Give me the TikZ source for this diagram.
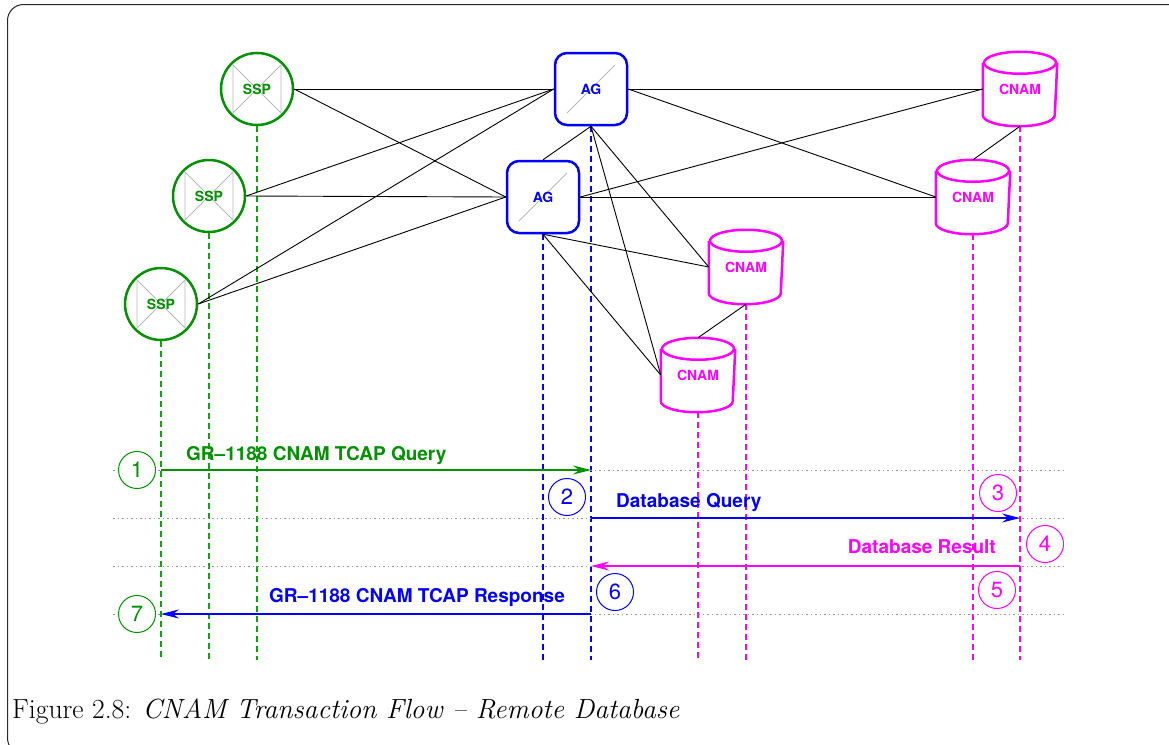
\documentclass[tikz,border=0pt]{standalone}
\usepackage{fontspec}
\newfontfamily\hv{TeX Gyre Heros}
\usetikzlibrary{arrows.meta}
\definecolor{figgreen}{RGB}{0,144,0}
\definecolor{lifegreen}{RGB}{20,160,20}
\definecolor{figblue}{RGB}{0,0,255}
\definecolor{figmag}{RGB}{255,0,255}
\definecolor{gridgray}{RGB}{150,150,150}
\definecolor{glyphgray}{RGB}{185,185,185}

% SSP: circle with a grey bow-tie glyph behind the label
\newcommand\sspnode[3]{%
  \draw[glyph] ({#2-24},{#3-24}) -- ({#2-24},{#3+24}) -- ({#2+24},{#3-24})
    -- ({#2+24},{#3+24}) -- cycle;
  \node[sspbox] (#1) at (#2,#3) {SSP};}
% AG: rounded square with a grey diagonal
\newcommand\agnode[3]{%
  \draw[glyph] ({#2-24},{#3+24}) -- ({#2+24},{#3-24});
  \node[agbox] (#1) at (#2,#3) {AG};}
% CNAM database: cylinder outline around a square node
\newcommand\cnamnode[3]{%
  \node[cnambox] (#1) at (#2,#3) {CNAM};
  \draw[cnamline] ([yshift=-11pt]#1.north) ellipse (36pt and 11pt);
  \draw[cnamline] ([yshift=-11pt]#1.north west) -- ([yshift=11pt]#1.south west)
    arc (180:360:36pt and 11pt) -- ([yshift=-11pt]#1.north east);}

\begin{document}
\begin{tikzpicture}[x=1pt,y=-1pt,
  nodefont/.style={font=\hv\bfseries\fontsize{14}{14}\selectfont},
  sspbox/.style={circle,draw=figgreen,line width=2.5pt,minimum size=72pt,
    inner sep=0pt,text=figgreen,nodefont},
  agbox/.style={rectangle,rounded corners=12pt,draw=figblue,line width=2.5pt,
    minimum size=72pt,inner sep=0pt,text=figblue,nodefont},
  cnambox/.style={rectangle,minimum size=72pt,inner sep=0pt,outer sep=1.25pt,
    text=figmag,nodefont},
  cnamline/.style={draw=figmag,line width=2.5pt},
  glyph/.style={draw=glyphgray,line width=0.9pt},
  link/.style={draw=black,line width=0.9pt},
  life/.style={line width=1.1pt,dash pattern=on 6pt off 4pt},
  grid/.style={draw=gridgray,line width=0.9pt,dash pattern=on 1.5pt off 3pt},
  msg/.style={line width=1.2pt,-{Stealth[length=18pt,width=9pt,inset=6pt]}},
  msgtext/.style={anchor=base west,inner sep=0pt,font=\hv\bfseries\fontsize{19}{19}\selectfont},
  num/.style={circle,draw,fill=white,line width=1pt,minimum size=37pt,inner sep=0pt,
    font=\hv\fontsize{22}{22}\selectfont}]
\useasboundingbox (0,0) rectangle (1169,744);

% outer frame
\draw[line width=1pt,black!85,rounded corners=16pt] (7.5,4.5) rectangle (1185,754);

% network elements
\sspnode{s1}{257}{89}
\sspnode{s2}{209}{196}
\sspnode{s3}{161}{304}
\agnode{a1}{591}{89}
\agnode{a2}{543}{197}
\cnamnode{c1}{1020}{89}
\cnamnode{c2}{973}{197}
\cnamnode{c3}{746}{267}
\cnamnode{c4}{698}{375}

% lifelines
\coordinate (bot) at (0,660);
\draw[life,draw=lifegreen] (s1.south) -- (s1.south |- bot);
\draw[life,draw=lifegreen] (s2.south) -- (s2.south |- bot);
\draw[life,draw=lifegreen] (s3.south) -- (s3.south |- bot);
\draw[life,draw=figblue] (a1.south) -- (a1.south |- bot);
\draw[life,draw=figblue] (a2.south) -- (a2.south |- bot);
\draw[life,draw=figmag] (c1.south) -- (c1.south |- bot);
\draw[life,draw=figmag] (c2.south) -- (c2.south |- bot);
\draw[life,draw=figmag] (c3.south) -- (c3.south |- bot);
\draw[life,draw=figmag] (c4.south) -- (c4.south |- bot);

% links
\foreach \s in {s1,s2,s3} {
  \draw[link] (\s.east) -- (a1.west);
  \draw[link] (\s.east) -- (a2.west);
}
\foreach \a in {a1,a2} {
  \draw[link] (\a.east) -- (c1.west);
  \draw[link] (\a.east) -- (c2.west);
  \draw[link] (\a.south) -- (c3.west);
  \draw[link] (\a.south) -- (c4.west);
}
\draw[link] (a1.south) -- (a2.north);
\draw[link] (c1.south) -- (c2.north);
\draw[link] (c3.south) -- (c4.north);

% time rows
\foreach \i/\y in {1/470,2/518,3/566,4/614} {
  \coordinate (l\i) at (113,\y);
  \coordinate (r\i) at (1067,\y);
  \draw[grid] (l\i) -- (r\i);
}

% messages
\draw[msg,draw=figgreen,fill=figgreen] (s3.south |- l1) -- (a1.south |- l1);
\draw[msg,draw=figblue,fill=figblue] (a1.south |- l2) -- (c1.south |- l2);
\draw[msg,draw=figmag,fill=figmag] (c1.south |- l3) -- (a1.south |- l3);
\draw[msg,draw=figblue,fill=figblue] (a1.south |- l4) -- (s3.south |- l4);

\node[msgtext,text=figgreen] (t1) at (186,460) {GR–1188 CNAM TCAP Query};
\node[msgtext,text=figblue] (t2) at (616,507) {Database Query};
\node[msgtext,text=figmag,anchor=base east] (t3) at (996,553) {Database Result};
\node[msgtext,text=figblue] (t4) at (269,602) {GR–1188 CNAM TCAP Response};

% step numbers
\node[num,draw=figgreen,text=figgreen] (n1) at (137,470) {1};
\node[num,draw=figblue,text=figblue] (n2) at (567,497) {2};
\node[num,draw=figmag,text=figmag] (n3) at (998,493) {3};
\node[num,draw=figmag,text=figmag] (n4) at (1045,544) {4};
\node[num,draw=figmag,text=figmag] (n5) at (997,590) {5};
\node[num,draw=figblue,text=figblue] (n6) at (615,592) {6};
\node[num,draw=figgreen,text=figgreen] (n7) at (137,614) {7};

% caption
\node[anchor=base west,inner sep=0pt,font=\fontsize{27.7}{31}\selectfont] (cap)
  at (12,718) {Figure 2.8: \textit{CNAM Transaction Flow – Remote Database}};
\end{tikzpicture}
\end{document}
